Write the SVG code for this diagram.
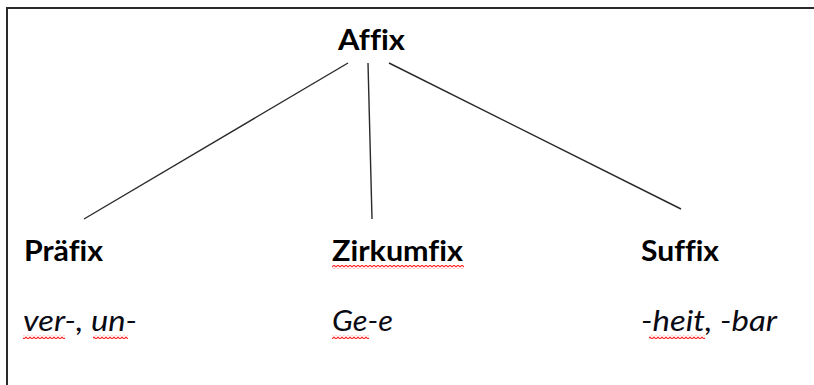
<svg xmlns="http://www.w3.org/2000/svg" width="814" height="385" viewBox="0 0 814 385">
<style>
.h{font-family:Lato,"Open Sans","DejaVu Sans",sans-serif;font-weight:bold;font-size:28px;fill:#000;font-variant-ligatures:none;font-feature-settings:"liga" 0}
.e{font-family:Lato,"Open Sans","DejaVu Sans",sans-serif;font-style:italic;font-size:28px;fill:#0a0a14;font-variant-ligatures:none;font-feature-settings:"liga" 0}
.c{stroke:#2a2a2a;stroke-width:1.4;fill:none}
</style>
<defs>
<pattern id="wave" patternUnits="userSpaceOnUse" x="0" y="0" width="4" height="4">
<path d="M0,3 L2,1 L4,3" fill="none" stroke="#ff2a2a" stroke-width="1.1"/>
</pattern>
</defs>
<rect width="814" height="385" fill="#fff"/>
<path d="M7,392 V8 H822" fill="none" stroke="#2a2a2a" stroke-width="2"/>
<g id="connectors">
<line class="c" x1="348" y1="63" x2="84" y2="219"/>
<line class="c" x1="368" y1="63" x2="372" y2="219"/>
<line class="c" x1="389" y1="63" x2="681" y2="209"/>
</g>
<g id="affix">
<text class="h" x="338" y="50" textLength="67" lengthAdjust="spacingAndGlyphs">Affix</text>
</g>
<g id="praefix">
<text class="h" x="24" y="261" textLength="79" lengthAdjust="spacingAndGlyphs">Präfix</text>
<text class="e" x="23" y="331" textLength="114" lengthAdjust="spacingAndGlyphs">ver-, un-</text>
<rect x="23" y="335" width="42" height="4" fill="url(#wave)"/>
<rect x="93" y="335" width="35" height="4" fill="url(#wave)"/>
</g>
<g id="zirkumfix">
<text class="h" x="332" y="261" textLength="131" lengthAdjust="spacingAndGlyphs">Zirkumfix</text>
<rect x="332" y="265" width="132" height="4" fill="url(#wave)"/>
<text class="e" x="332" y="331" textLength="61" lengthAdjust="spacingAndGlyphs">Ge-e</text>
<rect x="332" y="335" width="37" height="4" fill="url(#wave)"/>
</g>
<g id="suffix">
<text class="h" x="641" y="261" textLength="78" lengthAdjust="spacingAndGlyphs">Suffix</text>
<text class="e" x="641" y="331" textLength="136" lengthAdjust="spacingAndGlyphs">-heit, -bar</text>
<rect x="649" y="335" width="56" height="4" fill="url(#wave)"/>
</g>
</svg>
